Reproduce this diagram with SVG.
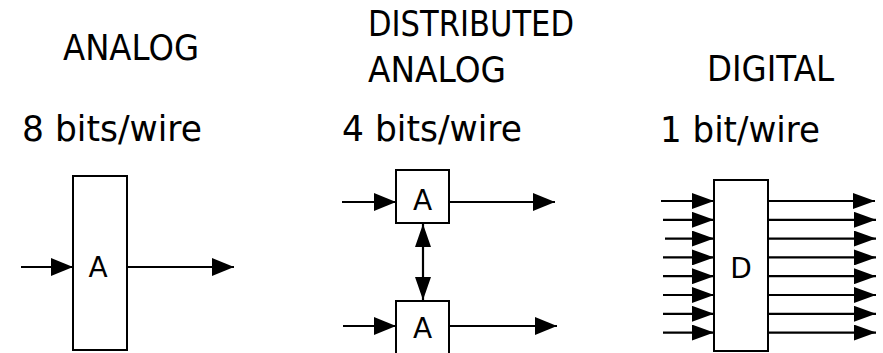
<svg xmlns="http://www.w3.org/2000/svg" width="883" height="353" viewBox="0 0 883 353">
  <style>
    .t { font-family: "DejaVu Sans", "Liberation Sans", sans-serif; font-size: 35px; fill: #000; }
    .b { font-family: "DejaVu Sans", "Liberation Sans", sans-serif; font-size: 35px; fill: #000; }
    .lbl { font-family: "DejaVu Sans", "Liberation Sans", sans-serif; font-size: 28px; fill: #000; text-anchor: middle; }
    .box { fill: #fff; stroke: #000; stroke-width: 2; }
    .w { stroke: #000; stroke-width: 2.2; fill: none; marker-end: url(#ah); }
    .d { stroke: #000; stroke-width: 2.2; fill: none; marker-end: url(#ahs); }
  </style>
  <defs>
    <marker id="ah" markerUnits="userSpaceOnUse" markerWidth="23" markerHeight="18" refX="22" refY="9" orient="auto">
      <path d="M0,0 L22,9 L0,18 z" fill="#000"/>
    </marker>
    <marker id="ahs" markerUnits="userSpaceOnUse" markerWidth="23" markerHeight="16" refX="22" refY="8" orient="auto">
      <path d="M0,0 L22,8 L0,16 z" fill="#000"/>
    </marker>
    <marker id="av" markerUnits="userSpaceOnUse" markerWidth="24" markerHeight="16" refX="23" refY="8" orient="auto-start-reverse">
      <path d="M0,0 L23,8 L0,16 z" fill="#000"/>
    </marker>
  </defs>

  <!-- Titles -->
  <text class="t" x="63" y="60" textLength="136" lengthAdjust="spacingAndGlyphs">ANALOG</text>
  <text class="t" x="368" y="36" textLength="206" lengthAdjust="spacingAndGlyphs">DISTRIBUTED</text>
  <text class="t" x="368" y="82" textLength="138" lengthAdjust="spacingAndGlyphs">ANALOG</text>
  <text class="t" x="707" y="81" textLength="127" lengthAdjust="spacingAndGlyphs">DIGITAL</text>
  <text class="b" x="22" y="141" textLength="180" lengthAdjust="spacingAndGlyphs">8 bits/wire</text>
  <text class="b" x="342" y="141" textLength="180" lengthAdjust="spacingAndGlyphs">4 bits/wire</text>
  <text class="b" x="660" y="142" textLength="160" lengthAdjust="spacingAndGlyphs">1 bit/wire</text>

  <!-- Connectors -->
  <g id="connectors">
    <line class="w" x1="21" y1="267" x2="73" y2="267"/>
    <line class="w" x1="127" y1="267" x2="234" y2="267"/>

    <line class="w" x1="342" y1="202" x2="396" y2="202"/>
    <line class="w" x1="449" y1="202" x2="555" y2="202"/>
    <line class="w" x1="343" y1="326" x2="396" y2="326"/>
    <line class="w" x1="449" y1="326" x2="557" y2="326"/>
    <line x1="423" y1="224" x2="423" y2="300" stroke="#000" stroke-width="2.2" marker-start="url(#av)" marker-end="url(#av)"/>

    <line class="d" x1="661" y1="201" x2="714" y2="201"/>
    <line class="d" x1="663" y1="219.8" x2="714" y2="219.8"/>
    <line class="d" x1="665" y1="238.6" x2="714" y2="238.6"/>
    <line class="d" x1="663" y1="257.4" x2="714" y2="257.4"/>
    <line class="d" x1="663" y1="276.2" x2="714" y2="276.2"/>
    <line class="d" x1="663" y1="295" x2="714" y2="295"/>
    <line class="d" x1="663" y1="313.8" x2="714" y2="313.8"/>
    <line class="d" x1="663" y1="332.6" x2="714" y2="332.6"/>

    <line class="d" x1="768" y1="201" x2="875" y2="201"/>
    <line class="d" x1="768" y1="219.8" x2="876" y2="219.8"/>
    <line class="d" x1="768" y1="238.6" x2="876" y2="238.6"/>
    <line class="d" x1="768" y1="257.4" x2="876" y2="257.4"/>
    <line class="d" x1="768" y1="276.2" x2="876" y2="276.2"/>
    <line class="d" x1="768" y1="295" x2="876" y2="295"/>
    <line class="d" x1="768" y1="313.8" x2="876" y2="313.8"/>
    <line class="d" x1="768" y1="332.6" x2="876" y2="332.6"/>
  </g>

  <!-- Nodes -->
  <g id="analog-A">
    <rect class="box" x="73" y="176" width="54" height="174"/>
    <text class="lbl" x="98" y="277">A</text>
  </g>
  <g id="dist-A-top">
    <rect class="box" x="396" y="170" width="53" height="53"/>
    <text class="lbl" x="422.5" y="210">A</text>
  </g>
  <g id="dist-A-bottom">
    <rect class="box" x="396" y="301" width="53" height="60"/>
    <text class="lbl" x="422.5" y="338">A</text>
  </g>
  <g id="digital-D">
    <rect class="box" x="714" y="180" width="54" height="171"/>
    <text class="lbl" x="741" y="278">D</text>
  </g>
</svg>
